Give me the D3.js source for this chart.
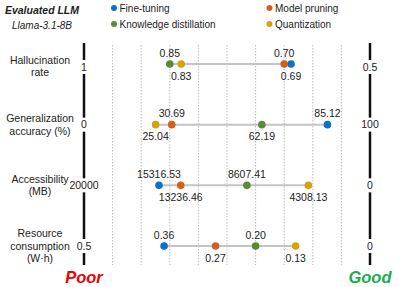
<!DOCTYPE html>
<html>
<head>
<meta charset="utf-8">
<script src="https://cdn.jsdelivr.net/npm/d3@7"></script>
<style>
  body { margin: 0; background: #fff; }
  text { font-family: Arial, "Liberation Sans", sans-serif; fill: #222; }
</style>
</head>
<body>
<div id="chart"></div>
<script>
// methods (legend order) and colours
var methods = ["Fine-tuning", "Model pruning", "Knowledge distillation", "Quantization"];
var methodColors = ["#0a72c8", "#d2601a", "#5b8a34", "#d4a20a"];

// metrics, one row each
var metricNames = [["Hallucination", "rate"], ["Generalization", "accuracy (%)"], ["Accessibility", "(MB)"], ["Resource", "consumption", "(W\u00b7h)"]];
var leftEnds = [1, 0, 20000, 0.5];
var rightEnds = [0.5, 100, 0, 0];
var leftLabels = ["1", "0", "20000", "0.5"];
var rightLabels = ["0.5", "100", "0", "0"];

// values per method: fine-tuning, pruning, distillation, quantization
var hallucination = [0.69, 0.70, 0.85, 0.83];
var generalization = [85.12, 30.69, 62.19, 25.04];
var accessibility = [15316.53, 13236.46, 8607.41, 4308.13];
var resource = [0.36, 0.27, 0.20, 0.13];
// where the points sit in the picture (hallucination row is drawn off its labels)
var hallucinationPos = [0.638, 0.65, 0.85, 0.83];
var generalizationPos = [85.12, 30.69, 62.19, 25.04];
var accessibilityPos = [14755, 13236.46, 8607.41, 4308.13];
var resourcePos = [0.36, 0.27, 0.20, 0.13];
// label above (-1) or below (1) the point
var hallucinationSide = [1, -1, -1, 1];
var generalizationSide = [-1, -1, 1, 1];
var accessibilitySide = [-1, 1, -1, 1];
var resourceSide = [-1, 1, -1, 1];

var rowValues = [hallucination, generalization, accessibility, resource];
var rowPos = [hallucinationPos, generalizationPos, accessibilityPos, resourcePos];
var rowSide = [hallucinationSide, generalizationSide, accessibilitySide, resourceSide];

var svgwidth = 399, svgheight = 287;
var x0 = 84, x1 = 370;

var svg = d3.select("#chart").append("svg")
    .attr("width", svgwidth)
    .attr("height", svgheight);

var yScale = d3.scalePoint()
    .domain(d3.range(metricNames.length))
    .range([64, 246]);

// dotted grid
var gridScale = d3.scaleLinear().domain([0, 10]).range([x0, x1]);
svg.append("g").selectAll("line")
    .data(d3.range(1, 10))
    .join("line")
    .attr("x1", d => gridScale(d)).attr("x2", d => gridScale(d))
    .attr("y1", 45).attr("y2", 265)
    .attr("stroke", "#bdbdbd")
    .attr("stroke-width", 1)
    .attr("stroke-dasharray", "1.5,1.5");

// end axes with value labels cut into them
[x0, x1].forEach(function(xx, side) {
    var g = svg.append("g");
    g.append("line")
        .attr("x1", xx).attr("x2", xx)
        .attr("y1", 43).attr("y2", 265)
        .attr("stroke", "#111")
        .attr("stroke-width", 2.5);
    var labs = side === 0 ? leftLabels : rightLabels;
    labs.forEach(function(t, i) {
        var y = yScale(i) + (i === 0 ? 3 : 0);
        g.append("rect")
            .attr("x", xx - 3).attr("y", y - 7)
            .attr("width", 6).attr("height", 14)
            .attr("fill", "#fff");
        g.append("text")
            .attr("x", xx).attr("y", y + 3.8)
            .attr("text-anchor", "middle")
            .attr("font-size", 10.5)
            .text(t);
    });
});

// row labels
metricNames.forEach(function(lines, i) {
    var cy = yScale(i) + (i === 0 ? 2 : 0);
    var t = svg.append("text")
        .attr("text-anchor", "middle")
        .attr("font-size", 10.5);
    lines.forEach(function(l, k) {
        t.append("tspan")
            .attr("x", 40)
            .attr("y", cy + (k - (lines.length - 1) / 2) * 12.5 + 3.8)
            .text(l);
    });
});

// dumbbell rows
var fmt = d3.format(".2f");
rowValues.forEach(function(vals, i) {
    var xScale = d3.scaleLinear()
        .domain([leftEnds[i], rightEnds[i]])
        .range([x0, x1]);
    var y = yScale(i);
    var pos = rowPos[i];
    var ext = d3.extent(pos.map(v => xScale(v)));
    var g = svg.append("g");
    g.append("line")
        .attr("x1", ext[0]).attr("x2", ext[1])
        .attr("y1", y).attr("y2", y)
        .attr("stroke", "#c4c4c4")
        .attr("stroke-width", 2);
    g.selectAll("circle")
        .data(vals)
        .join("circle")
        .attr("cx", (d, j) => xScale(pos[j]))
        .attr("cy", y)
        .attr("r", 3.8)
        .attr("fill", (d, j) => methodColors[j]);
    g.selectAll("text")
        .data(vals)
        .join("text")
        .attr("x", (d, j) => xScale(pos[j]))
        .attr("y", (d, j) => rowSide[i][j] < 0 ? y - 7.5 : y + 15.5)
        .attr("text-anchor", "middle")
        .attr("font-size", 10.5)
        .text(d => fmt(d));
});

// title
svg.append("text")
    .attr("x", 42).attr("y", 14)
    .attr("text-anchor", "middle")
    .attr("font-size", 10.5)
    .attr("font-weight", "bold")
    .attr("font-style", "italic")
    .text("Evaluated LLM");
svg.append("text")
    .attr("x", 42).attr("y", 29)
    .attr("text-anchor", "middle")
    .attr("font-size", 10)
    .attr("font-style", "italic")
    .text("Llama-3.1-8B");

// legend
var legX = [114, 114, 269.5, 269.5];
var legOrder = [0, 2, 1, 3];
var leg = svg.append("g");
legOrder.forEach(function(m, k) {
    var lx = m === 0 || m === 2 ? 114 : 269.5;
    var ly = m === 0 || m === 1 ? 8 : 24;
    leg.append("circle")
        .attr("cx", lx).attr("cy", ly).attr("r", 3)
        .attr("fill", methodColors[m]);
    leg.append("text")
        .attr("x", lx + 5.5).attr("y", ly + 3.6)
        .attr("font-size", 10)
        .text(methods[m]);
});

// poor / good
svg.append("text")
    .attr("x", x0).attr("y", 283)
    .attr("text-anchor", "middle")
    .attr("font-size", 16.5)
    .attr("font-weight", "bold")
    .attr("font-style", "italic")
    .style("fill", "#f00000")
    .text("Poor");
svg.append("text")
    .attr("x", x1).attr("y", 283)
    .attr("text-anchor", "middle")
    .attr("font-size", 16.5)
    .attr("font-weight", "bold")
    .attr("font-style", "italic")
    .style("fill", "#17b04c")
    .text("Good");
</script>
</body>
</html>
